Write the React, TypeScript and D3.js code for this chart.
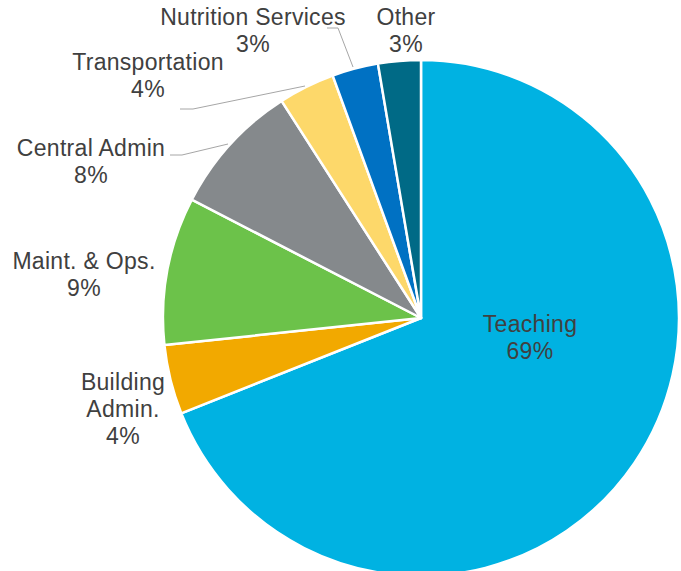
import React from "react";
import * as d3 from "d3";

const categories = ["Teaching", "Building Admin.", "Maint. & Ops.", "Central Admin", "Transportation", "Nutrition Services", "Other"];
const values = [69.0, 4.35, 9.26, 8.33, 3.53, 2.89, 2.67];
const percentLabels = ["69%", "4%", "9%", "8%", "4%", "3%", "3%"];
const colors = ["#00b2e2", "#f2a900", "#6cc24a", "#85898c", "#fdd86a", "#0071c3", "#006a86"];

// label text lines per category
const labelNames = [
  ["Teaching"],
  ["Building", "Admin."],
  ["Maint. & Ops."],
  ["Central Admin"],
  ["Transportation"],
  ["Nutrition Services"],
  ["Other"],
];
const labelPos: [number, number][] = [
  [530, 326],
  [123, 384],
  [84, 263],
  [91, 150],
  [148, 64],
  [253, 19],
  [406, 19],
];
const leaders: ([number, number][] | null)[] = [
  null,
  null,
  null,
  [[170, 155], [182, 155], [228, 144]],
  [[180, 109], [193, 109], [305, 86]],
  [[327, 28], [338, 28], [353, 67]],
  null,
];

export default function App() {
  const width = 681;
  const height = 571;
  const cx = 421;
  const cy = 318;
  const r = 258;
  const data = categories.map((c, i) => ({ c, v: values[i], i }));
  const pie = d3.pie<any>().value((d) => d.v).sort(null);
  const arcs = pie(data);
  const arc = d3.arc<any>().innerRadius(0).outerRadius(r);
  const line = d3.line();
  const lh = 27;
  return (
    <svg
      width={width}
      height={height}
      style={{ position: "absolute", left: 0, top: 0, display: "block", background: "#fff" }}
    >
      <g transform={`translate(${cx},${cy})`}>
        {arcs.map((a, i) => (
          <path key={i} d={arc(a) || ""} fill={colors[i]} stroke="#fff" strokeWidth={2.5} strokeLinejoin="round" />
        ))}
      </g>
      {leaders.map((l, i) =>
        l ? <path key={"l" + i} d={line(l) || ""} fill="none" stroke="#a6a6a6" strokeWidth={1} /> : null
      )}
      {labelNames.map((names, i) => {
        const lines = [...names, percentLabels[i]];
        return (
          <text
            key={"t" + i}
            x={labelPos[i][0]}
            y={labelPos[i][1]}
            textAnchor="middle"
            fontFamily="'Liberation Sans', Arial, sans-serif"
            fontSize={23}
            letterSpacing={0.3}
            fill="#404040"
          >
            {lines.map((s, j) => (
              <tspan key={j} x={labelPos[i][0]} y={labelPos[i][1] + j * lh} dominantBaseline="middle">
                {s}
              </tspan>
            ))}
          </text>
        );
      })}
    </svg>
  );
}
